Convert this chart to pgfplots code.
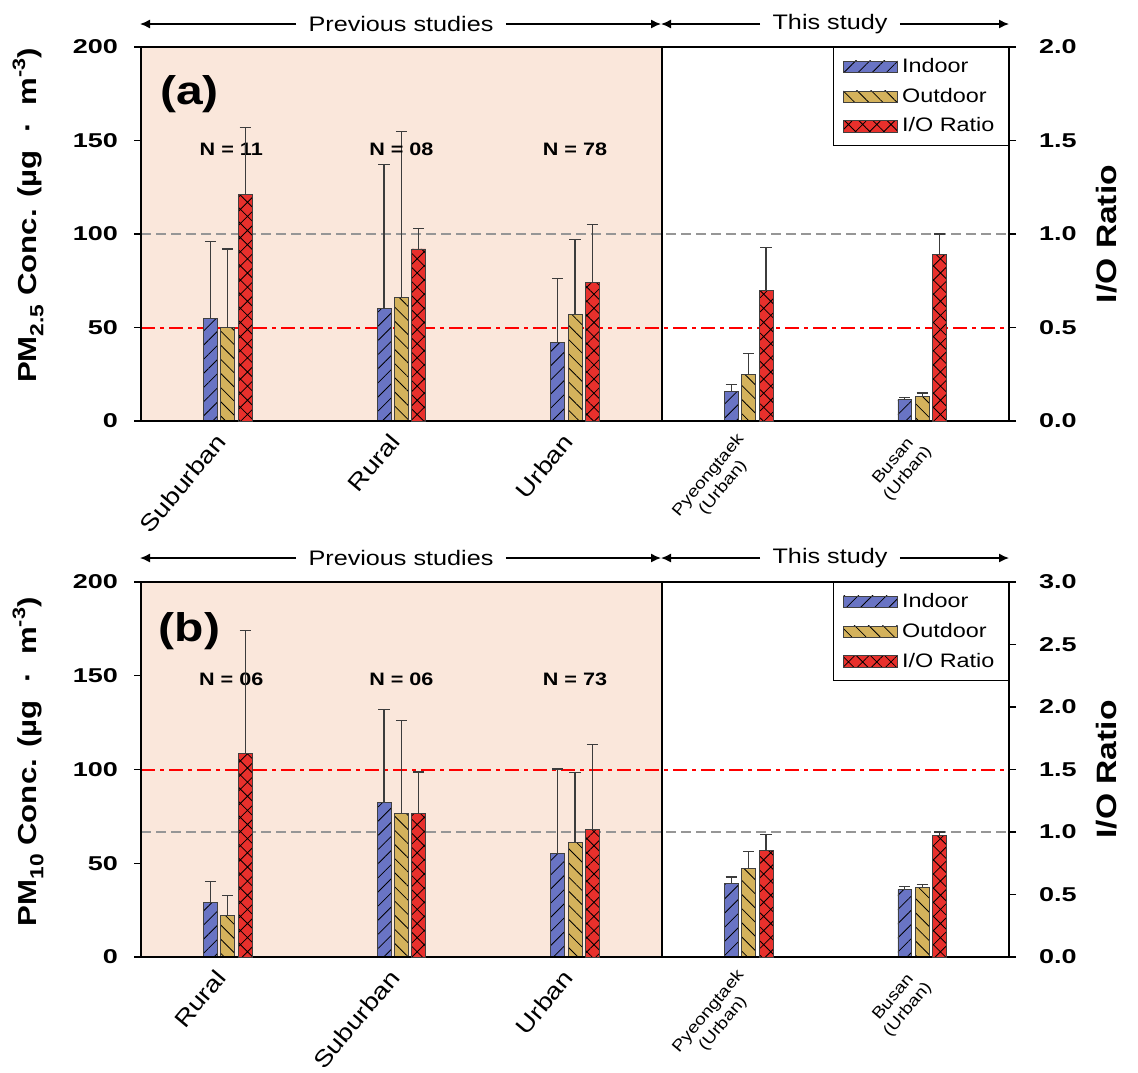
\documentclass[border=0pt]{standalone}
\usepackage{fontspec}
\setmainfont{Liberation Sans}[FakeStretch=1.2]
\newfontfamily\tickfont{Liberation Sans}[FakeStretch=1.35]
\usepackage{pgfplots}
\pgfplotsset{compat=1.18}
\usepackage{pgfplotstable}
\usetikzlibrary{patterns.meta, arrows.meta}

\definecolor{cin}{RGB}{105,116,196}
\definecolor{cout}{RGB}{212,178,92}
\definecolor{cio}{RGB}{232,48,44}
\definecolor{bgp}{RGB}{250,231,219}
\definecolor{errc}{RGB}{60,60,60}
\definecolor{refgray}{RGB}{150,150,150}

\newcommand{\xbig}{\fontsize{11.5}{13}\selectfont}
\newcommand{\xsmall}{\fontsize{8}{9.5}\selectfont}
\newcommand{\tickf}{\tickfont\bfseries\fontsize{10}{12}\selectfont}
\newcommand{\annf}{\fontsize{10.5}{12}\selectfont}

% Panel (a): PM2.5
\pgfplotstableread{
x in inerr out outerr
0 55 41 50 42
1 60 77 66 89
2 42 34 57 40
3 16 3.5 25 11
4 11.5 1.2 13 2
}\pmA
\pgfplotstableread{
x io ioerr
0 1.21 0.36
1 0.92 0.11
2 0.74 0.31
3 0.70 0.23
4 0.89 0.11
}\ioA
% Panel (b): PM10
\pgfplotstableread{
x in inerr out outerr
0 29 11.5 22 10.7
1 82.5 49.5 76.4 49.8
2 55.3 45 61.3 37.3
3 39.3 3.4 47.1 9.3
4 36.1 1.4 37.2 1.6
}\pmB
\pgfplotstableread{
x io ioerr
0 1.63 0.98
1 1.15 0.33
2 1.02 0.68
3 0.85 0.13
4 0.97 0.03
}\ioB

\pgfplotsset{
  barbase/.style={ybar, bar shift=0pt, bar width=0.08, forget plot},
  indoorst/.style={fill=cin, draw=black!75, line width=0.4pt,
    postaction={pattern={Lines[angle=45,distance=5pt,line width=0.4pt]}}},
  outdoorst/.style={fill=cout, draw=black!75, line width=0.4pt,
    postaction={pattern={Lines[angle=-45,distance=5pt,line width=0.4pt]}}},
  iost/.style={fill=cio, draw=black!75, line width=0.4pt,
    postaction={pattern={Hatch[angle=45,distance=5pt,line width=0.4pt]}}},
  errbars/.style={error bars/.cd, y dir=plus, y explicit,
    error mark=-,
    error bar style={draw=errc, line width=0.55pt, solid},
    error mark options={rotate=90, draw=errc, line width=0.55pt, mark size=2.8pt, solid}},
  myleg/.style={legend image code/.code={\draw[##1] (0pt,-2.8pt) rectangle (27pt,2.8pt);}},
  grayref/.style={forget plot, no markers, color=refgray, line width=0.7pt, dash pattern=on 5pt off 2.5pt},
  redref/.style={forget plot, no markers, red, line width=1pt, dash pattern=on 7pt off 2.5pt on 2pt off 2.5pt},
  leftax/.style={
    width=434pt, height=187pt, scale only axis, anchor=south west,
    xmin=-0.5, xmax=4.5, ymin=0, ymax=200,
    xtick={0,1,2,3,4},
    xtick style={draw=none},
    ytick={0,50,100,150,200}, ytick pos=left,
    tick align=outside, major tick length=3.5pt,
    tick style={line width=0.7pt, black},
    axis line style={line width=1pt},
    /pgf/number format/assume math mode=true,
    yticklabel style={font=\tickf, xshift=-4.5pt},
    xticklabel style={xshift=-7pt, yshift=3pt, rotate=50, anchor=north east, align=center, font=\xsmall},
    axis on top, clip=false,
  },
  rightax/.style={
    width=434pt, height=187pt, scale only axis, anchor=south west,
    xmin=-0.5, xmax=4.5, ymin=0,
    axis x line=none, axis y line*=right,
    tick align=outside, major tick length=3.5pt,
    tick style={line width=0.7pt, black},
    axis line style={line width=1pt},
    /pgf/number format/assume math mode=true,
    yticklabel style={font=\tickf, xshift=8pt, /pgf/number format/.cd, fixed, fixed zerofill, precision=1},
    every axis y label/.style={at={(axis description cs:1.112,0.5)}, rotate=90, anchor=center,
      font=\bfseries\fontsize{14}{16}\selectfont},
    ylabel={I/O Ratio},
    legend style={at={(1,1)}, anchor=north east, draw=black, line width=0.6pt, fill=white,
      font=\fontsize{9.75}{11}\selectfont, row sep=2.4pt, inner xsep=5pt, inner ysep=3.2pt,
      /tikz/every even column/.append style={column sep=4pt}},
    legend cell align=left,
    clip=false,
  },
}

\begin{document}
\begin{tikzpicture}
\path[use as bounding box] (0pt,0pt) rectangle (569pt,-536pt);

% ===================== Panel (a) =====================
\begin{axis}[leftax, at={(70.5pt,-210.5pt)},
  xticklabels={{\xbig Suburban},{\xbig Rural},{\xbig Urban},{\xsmall Pyeongtaek\\\xsmall (Urban)},{\xsmall Busan\\\xsmall (Urban)}},
  every axis y label/.style={at={(axis description cs:-0.130,0.55)}, rotate=90, anchor=center,
    font=\bfseries\fontsize{13}{15}\selectfont},
  ylabel={PM\raisebox{-0.25em}{\fontsize{9.5}{10}\selectfont 2.5} Conc. (µg\ \ ·\ \ m\raisebox{0.45em}{\fontsize{9}{10}\selectfont -3})},
]
\fill[bgp] (axis cs:-0.5,0) rectangle (axis cs:2.5,200);
\draw[black, line width=0.7pt] (axis cs:2.5,0) -- (axis cs:2.5,200);
\addplot[grayref] coordinates {(-0.5,100) (4.5,100)};
\addplot[redref] coordinates {(-0.5,50) (4.5,50)};
\addplot[barbase, indoorst, errbars] table[x expr=\thisrow{x}-0.1, y=in, y error=inerr] {\pmA};
\addplot[barbase, outdoorst, errbars] table[x=x, y=out, y error=outerr] {\pmA};
\node[font=\bfseries\fontsize{20}{24}\selectfont] at (axis cs:-0.22,175) {(a)};
\node[font=\bfseries\fontsize{9}{10}\selectfont] at (axis cs:0.02,145.5) {N\ =\ 11};
\node[font=\bfseries\fontsize{9}{10}\selectfont] at (axis cs:1,145.5) {N\ =\ 08};
\node[font=\bfseries\fontsize{9}{10}\selectfont] at (axis cs:2,145.5) {N\ =\ 78};
\end{axis}
\begin{axis}[rightax, at={(70.5pt,-210.5pt)}, ymax=2, ytick={0,0.5,1,1.5,2}]
\addlegendimage{indoorst, myleg}\addlegendentry{Indoor}
\addlegendimage{outdoorst, myleg}\addlegendentry{Outdoor}
\addlegendimage{iost, myleg}\addlegendentry{I/O Ratio}
\addplot[barbase, iost, errbars] table[x expr=\thisrow{x}+0.1, y=io, y error=ioerr] {\ioA};
\end{axis}

% ===================== Panel (b) =====================
\begin{axis}[leftax, at={(70.5pt,-478.5pt)}, height=187.5pt,
  xticklabels={{\xbig Rural},{\xbig Suburban},{\xbig Urban},{\xsmall Pyeongtaek\\\xsmall (Urban)},{\xsmall Busan\\\xsmall (Urban)}},
  every axis y label/.style={at={(axis description cs:-0.130,0.52)}, rotate=90, anchor=center,
    font=\bfseries\fontsize{13}{15}\selectfont},
  ylabel={PM\raisebox{-0.25em}{\fontsize{9.5}{10}\selectfont 10} Conc. (µg\ \ ·\ \ m\raisebox{0.45em}{\fontsize{9}{10}\selectfont -3})},
]
\fill[bgp] (axis cs:-0.5,0) rectangle (axis cs:2.5,200);
\draw[black, line width=0.7pt] (axis cs:2.5,0) -- (axis cs:2.5,200);
\addplot[grayref] coordinates {(-0.5,66.67) (4.5,66.67)};
\addplot[redref] coordinates {(-0.5,100) (4.5,100)};
\addplot[barbase, indoorst, errbars] table[x expr=\thisrow{x}-0.1, y=in, y error=inerr] {\pmB};
\addplot[barbase, outdoorst, errbars] table[x=x, y=out, y error=outerr] {\pmB};
\node[font=\bfseries\fontsize{20}{24}\selectfont] at (axis cs:-0.22,174) {(b)};
\node[font=\bfseries\fontsize{9}{10}\selectfont] at (axis cs:0.02,148.3) {N\ =\ 06};
\node[font=\bfseries\fontsize{9}{10}\selectfont] at (axis cs:1,148.3) {N\ =\ 06};
\node[font=\bfseries\fontsize{9}{10}\selectfont] at (axis cs:2,148.3) {N\ =\ 73};
\end{axis}
\begin{axis}[rightax, at={(70.5pt,-478.5pt)}, height=187.5pt, ymax=3, ytick={0,0.5,1,1.5,2,2.5,3}]
\addlegendimage{indoorst, myleg}\addlegendentry{Indoor}
\addlegendimage{outdoorst, myleg}\addlegendentry{Outdoor}
\addlegendimage{iost, myleg}\addlegendentry{I/O Ratio}
\addplot[barbase, iost, errbars] table[x expr=\thisrow{x}+0.1, y=io, y error=ioerr] {\ioB};
\end{axis}

% ===================== Top annotations =====================
\foreach \yy in {-12pt,-279pt}{
  \node[inner xsep=6pt, inner ysep=0pt, font=\annf] (p) at (200.5pt,\yy) {Previous studies};
  \draw[line width=0.7pt, -{Latex[length=5pt,width=4.5pt]}] (p.west) -- (70pt,\yy);
  \draw[line width=0.7pt, -{Latex[length=5pt,width=4.5pt]}] (p.east) -- (330.5pt,\yy);
  \node[inner xsep=6pt, inner ysep=0pt, font=\annf] (t) at (415pt,\yy) {This study};
  \draw[line width=0.7pt, -{Latex[length=5pt,width=4.5pt]}] (t.west) -- (330.5pt,\yy);
  \draw[line width=0.7pt, -{Latex[length=5pt,width=4.5pt]}] (t.east) -- (504.5pt,\yy);
}
\end{tikzpicture}
\end{document}
